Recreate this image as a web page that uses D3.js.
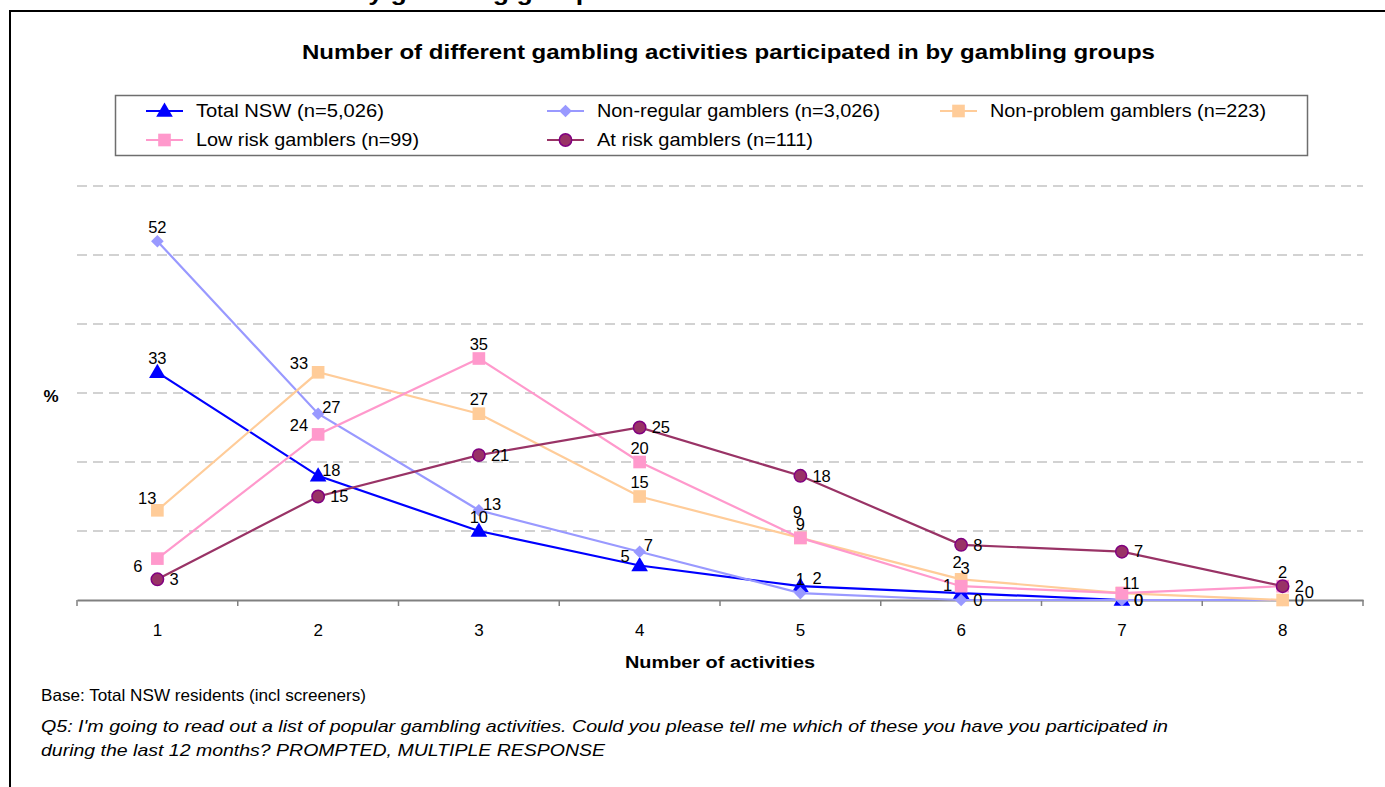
<!DOCTYPE html>
<html>
<head>
<meta charset="utf-8">
<script src="https://cdn.jsdelivr.net/npm/d3@7"></script>
<style>
  html, body { margin: 0; padding: 0; background: #fff; }
  svg { display: block; font-family: "Liberation Sans", Arial, sans-serif; }
</style>
</head>
<body>
<svg id="chart" width="1385" height="787"></svg>
<script>
// Number of activities (x categories)
const categories = [1, 2, 3, 4, 5, 6, 7, 8];

// Percentage of each group by number of activities participated in
const totalNSW       = [33, 18, 10, 5, 2, 1, 0, null];
const nonRegular     = [52, 27, 13, 7, 1, 0, 0, 0];
const nonProblem     = [13, 33, 27, 15, 9, 3, 1, 0];
const lowRisk        = [6, 24, 35, 20, 9, 2, 1, 2];
const atRisk         = [3, 15, 21, 25, 18, 8, 7, 2];

const seriesNames = [
  "Total NSW (n=5,026)",
  "Non-regular gamblers (n=3,026)",
  "Non-problem gamblers (n=223)",
  "Low risk gamblers (n=99)",
  "At risk gamblers (n=111)"
];

// Gridline values (% axis, no tick labels shown)
const yGridValues = [10, 20, 30, 40, 50, 60];

// Where each value label sits relative to its marker
const totalLabelPos      = ["t", "ur", "t", "ul", "ur2", "l", "r", null];
const nonRegularLabelPos = ["t", "ur", "ur", "ur", "t", "r", "r", "r2"];
const nonProblemLabelPos = ["tl", "ul", "t", "t", "tt", "t3", "t1a", "r"];
const lowRiskLabelPos    = ["dl", "ul", "t", "t", "t", "tt2", "t1b", "r"];
const atRiskLabelPos     = ["r", "r", "r", "r", "r", "r", "r", "t"];

const labelOffsets = {
  t:   { dx: 0,   dy: -14, anchor: "middle" },
  tt:  { dx: -3,  dy: -26, anchor: "middle" },
  t3:  { dx: 4,   dy: -11, anchor: "middle" },
  tt2: { dx: -4,  dy: -24, anchor: "middle" },
  t1a: { dx: 5,   dy: -10, anchor: "middle" },
  t1b: { dx: 13,  dy: -10, anchor: "middle" },
  tl:  { dx: -1,  dy: -12, anchor: "end" },
  ul:  { dx: -10, dy: -9,  anchor: "end" },
  dl:  { dx: -15, dy: 8,   anchor: "end" },
  l:   { dx: -9,  dy: -8,  anchor: "end" },
  r:   { dx: 12,  dy: 0,   anchor: "start" },
  r2:  { dx: 22,  dy: -8,  anchor: "start" },
  ur:  { dx: 4,   dy: -6,  anchor: "start" },
  ur2: { dx: 12,  dy: -8,  anchor: "start" }
};

const series = [
  { name: seriesNames[0], values: totalNSW,   labels: totalLabelPos,      color: "#0000FF", fill: "#0000FF", stroke: "#0000FF", marker: "triangle" },
  { name: seriesNames[1], values: nonRegular, labels: nonRegularLabelPos, color: "#9999FF", fill: "#9999FF", stroke: "#9999FF", marker: "diamond" },
  { name: seriesNames[2], values: nonProblem, labels: nonProblemLabelPos, color: "#FFCC99", fill: "#FFCC99", stroke: "#FFCC99", marker: "square" },
  { name: seriesNames[3], values: lowRisk,    labels: lowRiskLabelPos,    color: "#FF99CC", fill: "#FF99CC", stroke: "#FF99CC", marker: "square" },
  { name: seriesNames[4], values: atRisk,     labels: atRiskLabelPos,     color: "#993366", fill: "#993366", stroke: "#800080", marker: "circle" }
];

const svg = d3.select("#chart");

// Stretch a text to a set width (the chart's type is set wide)
function fit(sel, width) {
  return sel.attr("textLength", width).attr("lengthAdjust", "spacingAndGlyphs");
}

// Outer frame, partly cut by the page edges
svg.append("rect")
  .attr("x", 10).attr("y", 11)
  .attr("width", 1380).attr("height", 800)
  .attr("fill", "none").attr("stroke", "#000").attr("stroke-width", 2);

// Heading above the frame (only its descenders fall inside the page)
fit(svg.append("text")
  .attr("x", 352).attr("y", 0)
  .attr("font-size", 22).attr("font-weight", "bold")
  .text("by gambling group"), 240);

// Chart title
fit(svg.append("text")
  .attr("x", 302).attr("y", 59)
  .attr("font-size", 20.5).attr("font-weight", "bold")
  .text("Number of different gambling activities participated in by gambling groups"), 853);

// Scales
const x = d3.scaleBand().domain(categories).range([77, 1363]).padding(0);
const cx = c => x(c) + x.bandwidth() / 2;
const y = d3.scaleLinear().domain([0, 60]).range([600, 186]);

// Dashed gridlines
svg.append("g").selectAll("line")
  .data(yGridValues).join("line")
  .attr("x1", 77).attr("x2", 1363)
  .attr("y1", d => y(d)).attr("y2", d => y(d))
  .attr("stroke", "#A6A6A6").attr("stroke-width", 1.2)
  .attr("stroke-dasharray", "10,6");

// X axis: labels centred in each category, tick marks at the category boundaries
const xAxis = svg.append("g")
  .attr("transform", `translate(0,${y(0)})`)
  .call(d3.axisBottom(x).tickSize(0).tickPadding(24));
xAxis.select(".domain").attr("stroke", "#808080").attr("stroke-width", 2);
xAxis.selectAll(".tick text")
  .attr("font-size", 17).attr("font-family", "Liberation Sans, Arial, sans-serif").attr("fill", "#000");

const boundaries = categories.map(c => x(c)).concat([x.range()[1]]);
xAxis.selectAll("line.bound")
  .data(boundaries).join("line")
  .attr("class", "bound")
  .attr("x1", d => d).attr("x2", d => d)
  .attr("y1", 0).attr("y2", 6)
  .attr("stroke", "#808080").attr("stroke-width", 1.5);

// Axis titles
fit(svg.append("text")
  .attr("x", 625).attr("y", 668)
  .attr("font-size", 17).attr("font-weight", "bold")
  .text("Number of activities"), 190);

svg.append("text")
  .attr("x", 51).attr("y", 402)
  .attr("text-anchor", "middle")
  .attr("font-size", 17).attr("font-weight", "bold")
  .text("%");

// Markers (the diamond is a square turned 45°)
const symbolFor = {
  triangle: { path: d3.symbol().type(d3.symbolTriangle).size(120)(), rotate: 0 },
  diamond:  { path: d3.symbol().type(d3.symbolSquare).size(80)(),    rotate: 45 },
  square:   { path: d3.symbol().type(d3.symbolSquare).size(160)(),   rotate: 0 },
  circle:   { path: d3.symbol().type(d3.symbolCircle).size(120)(),   rotate: 0 }
};

const line = d3.line()
  .defined(d => d.v !== null)
  .x(d => cx(d.c))
  .y(d => y(d.v));

const plot = svg.append("g");
series.forEach(s => {
  const pts = categories.map((c, i) => ({ c, v: s.values[i], pos: s.labels[i] }));
  const sym = symbolFor[s.marker];
  const g = plot.append("g");
  g.append("path")
    .datum(pts)
    .attr("d", line)
    .attr("fill", "none")
    .attr("stroke", s.color)
    .attr("stroke-width", 2.2);
  g.selectAll("path.mk")
    .data(pts.filter(d => d.v !== null)).join("path")
    .attr("class", "mk")
    .attr("d", sym.path)
    .attr("transform", d => `translate(${cx(d.c)},${y(d.v) + (s.marker === "triangle" ? 1 : 0)}) rotate(${sym.rotate})`)
    .attr("fill", s.fill)
    .attr("stroke", s.stroke)
    .attr("stroke-width", s.marker === "circle" ? 1.5 : 0);
});

// Value labels (drawn after all lines so they stay readable)
series.forEach(s => {
  const pts = categories.map((c, i) => ({ c, v: s.values[i], pos: s.labels[i] }))
    .filter(d => d.v !== null && d.pos);
  plot.append("g").selectAll("text")
    .data(pts).join("text")
    .attr("x", d => cx(d.c) + labelOffsets[d.pos].dx)
    .attr("y", d => y(d.v) + labelOffsets[d.pos].dy)
    .attr("dy", "0.35em")
    .attr("text-anchor", d => labelOffsets[d.pos].anchor)
    .attr("font-size", 16.5)
    .attr("fill", "#000")
    .text(d => d3.format("d")(d.v));
});

// Legend
const legend = svg.append("g");
legend.append("rect")
  .attr("x", 115.5).attr("y", 95.5)
  .attr("width", 1192).attr("height", 60)
  .attr("fill", "#fff").attr("stroke", "#6E6E6E").attr("stroke-width", 1.5);

const legendCols = [146, 547, 940];
const legendRows = [111, 140];
const legendTextWidths = [188, 283, 276, 223, 216];
series.forEach((s, i) => {
  const col = i % 3, row = Math.floor(i / 3);
  const lx = legendCols[col], ly = legendRows[row];
  const sym = symbolFor[s.marker];
  const item = legend.append("g").attr("transform", `translate(${lx},${ly})`);
  item.append("line")
    .attr("x1", 0).attr("x2", 37)
    .attr("y1", 0).attr("y2", 0)
    .attr("stroke", s.color).attr("stroke-width", 2.2);
  item.append("path")
    .attr("d", sym.path)
    .attr("transform", `translate(18.5,${s.marker === "triangle" ? 1 : 0}) rotate(${sym.rotate})`)
    .attr("fill", s.fill)
    .attr("stroke", s.stroke)
    .attr("stroke-width", s.marker === "circle" ? 1.5 : 0);
  fit(item.append("text")
    .attr("x", 50).attr("y", 0)
    .attr("dy", "0.35em")
    .attr("font-size", 18.5)
    .text(s.name), legendTextWidths[i]);
});

// Footnotes
fit(svg.append("text")
  .attr("x", 41).attr("y", 701)
  .attr("font-size", 16.5)
  .text("Base: Total NSW residents (incl screeners)"), 325);

fit(svg.append("text")
  .attr("x", 41).attr("y", 732)
  .attr("font-size", 16.5).attr("font-style", "italic")
  .text("Q5: I'm going to read out a list of popular gambling activities. Could you please tell me which of these you have you participated in"), 1127);

fit(svg.append("text")
  .attr("x", 41).attr("y", 756)
  .attr("font-size", 16.5).attr("font-style", "italic")
  .text("during the last 12 months? PROMPTED, MULTIPLE RESPONSE"), 564);
</script>
</body>
</html>
